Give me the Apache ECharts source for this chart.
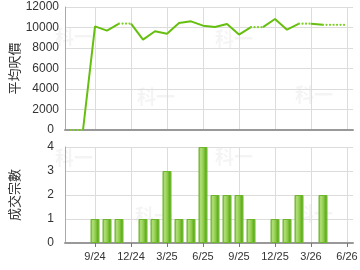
<!DOCTYPE html>
<html><head><meta charset="utf-8">
<script src="https://cdn.jsdelivr.net/npm/echarts@6/dist/echarts.min.js"></script>
<style>html,body{margin:0;padding:0;background:#fff}#c{width:360px;height:270px}</style>
</head><body><div id="c"></div>
<script>
const months = ['7/24','8/24','9/24','10/24','11/24','12/24','1/25','2/25','3/25','4/25','5/25','6/25','7/25','8/25','9/25','10/25','11/25','12/25','1/26','2/26','3/26','4/26','5/26','6/26'];
const avgPrice = [0,0,10110,9700,10380,10380,8820,9630,9400,10440,10600,10180,10050,10350,9310,10030,10030,10830,9790,10370,10370,10260,10260,10260];
// which segment (i -> i+1) is dotted (no transactions, carried value)
const dottedSeg = [0,4,15,19,21,22];
const deals = [0,0,1,1,1,0,1,1,3,1,1,4,2,2,2,1,0,1,1,2,0,2,0,0];
const priceTicks = [0,2000,4000,6000,8000,10000,12000];
const dealTicks = [0,1,2,3,4];

function segSeries(segs){
  const arr = months.map(()=>null);
  segs.forEach(i=>{arr[i]=avgPrice[i];arr[i+1]=avgPrice[i+1];});
  return arr;
}
const allSegs = [...Array(months.length-1).keys()];
const solidSegs = allSegs.filter(i=>!dottedSeg.includes(i));
// each separate run goes into its own series (avoids joining adjacent runs)
function runsOf(segs){
  const runs=[];let cur=[];
  segs.forEach((s,k)=>{ if(k>0 && s!==segs[k-1]+1){runs.push(cur);cur=[];} cur.push(s);});
  if(cur.length) runs.push(cur);
  return runs;
}

const lineColor = '#66bf0f';
const labelShow = (idx)=> idx%3===2;
const gridColor = '#dcdcdc';
const axisColor = '#999';

const chart = echarts.init(document.getElementById('c'));
const barGrad = new echarts.graphic.LinearGradient(0,0,1,0,[
  {offset:0,color:'#6db52a'},{offset:0.25,color:'#b2e07a'},{offset:0.55,color:'#8ccc48'},{offset:0.8,color:'#62ad20'},{offset:1,color:'#86cb44'}]);

function solidS(segs){return {type:'line',xAxisIndex:0,yAxisIndex:0,data:segSeries(segs),showSymbol:false,symbol:'none',connectNulls:false,clip:false,lineStyle:{color:lineColor,width:2},z:10,animation:false};}
function dotS(segs){return {type:'line',xAxisIndex:0,yAxisIndex:0,data:segSeries(segs),showSymbol:false,symbol:'none',connectNulls:false,clip:false,lineStyle:{color:'#7fcf2a',width:2.2,type:[0.1,3.4],cap:'round'},z:11,animation:false};}

const wm = [];
[[55,27],[137,87],[215,29],[295,85],[55,148],[135,206],[215,147],[295,204]].forEach(p=>{
  wm.push({type:'text',left:p[0],top:p[1],z:-10,silent:true,style:{text:'科一',font:'bold 19px "Noto Sans CJK SC"',fill:'rgba(0,0,0,0.045)'}});
});

chart.setOption({
  animation:false,
  textStyle:{fontFamily:'"Liberation Sans", Arial, sans-serif'},
  graphic: wm,
  grid:[
    {left:65,right:7,top:7,height:123,outerBoundsMode:'none'},
    {left:65,right:7,top:147,height:96,outerBoundsMode:'none'}
  ],
  xAxis:[
    {type:'category',gridIndex:0,data:months,boundaryGap:true,z:0,offset:1,
     axisLine:{lineStyle:{color:axisColor,width:2}},axisTick:{show:false},axisLabel:{show:false},
     splitLine:{show:true,interval:labelShow,alignWithLabel:true,lineStyle:{color:gridColor,width:1}}},
    {type:'category',gridIndex:1,data:months,boundaryGap:true,
     axisLine:{lineStyle:{color:axisColor,width:2}},
     axisTick:{show:true,alignWithLabel:true,interval:labelShow,length:4,lineStyle:{color:'#777'}},
     axisLabel:{show:true,interval:labelShow,fontSize:11,color:'#333',margin:8},
     splitLine:{show:true,interval:labelShow,alignWithLabel:true,lineStyle:{color:gridColor,width:1}}}
  ],
  yAxis:[
    {type:'value',gridIndex:0,min:priceTicks[0],max:priceTicks[priceTicks.length-1],interval:2000,z:0,
     name:'平均呎價',nameLocation:'middle',nameGap:44,nameMoveOverlap:false,nameTextStyle:{fontSize:13,color:'#333',fontFamily:'"Noto Sans CJK TC"'},
     axisLine:{show:true,lineStyle:{color:'#aaa',width:1}},axisTick:{show:false},
     axisLabel:{fontSize:12,color:'#333',margin:6,formatter:v=>v===0?'{z|0}':String(v),rich:{z:{fontSize:12,color:'#333',padding:[0,5,0,0]}}},
     splitLine:{lineStyle:{color:gridColor,width:1}}},
    {type:'value',gridIndex:1,min:dealTicks[0],max:dealTicks[dealTicks.length-1],interval:1,
     name:'成交宗數',nameLocation:'middle',nameGap:44,nameMoveOverlap:false,nameTextStyle:{fontSize:13,color:'#333',fontFamily:'"Noto Sans CJK TC"'},
     axisLine:{show:true,lineStyle:{color:'#aaa',width:1}},axisTick:{show:false},
     axisLabel:{fontSize:12,color:'#333',margin:11},
     splitLine:{lineStyle:{color:gridColor,width:1}}}
  ],
  series:[
    ...runsOf(solidSegs).map(solidS),
    ...runsOf(dottedSeg).map(dotS),
    {type:'bar',xAxisIndex:1,yAxisIndex:1,data:deals.map(v=>v===0?null:v),barWidth:9,
     itemStyle:{color:barGrad,borderColor:'#6cb52c',borderWidth:1},animation:false}
  ]
});
</script></body></html>
